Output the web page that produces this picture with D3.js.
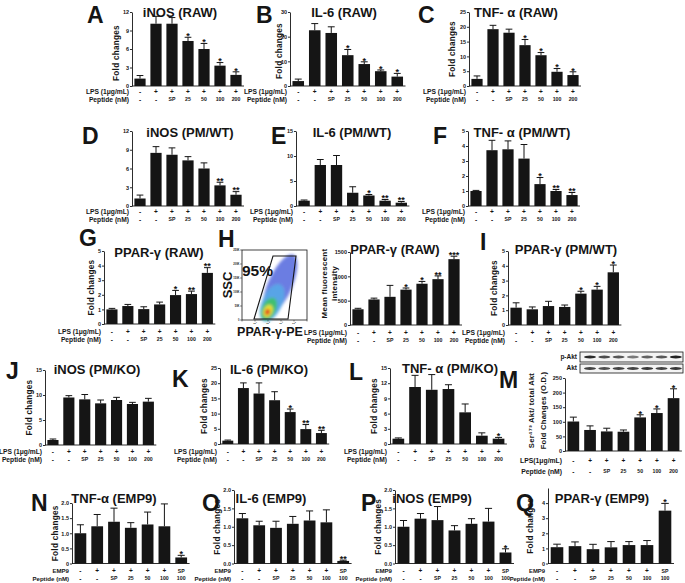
<!DOCTYPE html>
<html><head><meta charset="utf-8">
<script src="https://cdn.jsdelivr.net/npm/d3@7"></script>
<style>
body{margin:0;background:#fff}
svg{display:block;font-family:"Liberation Sans",Arial,sans-serif;font-weight:bold}
</style>
</head><body>
<svg id="c" width="685" height="583"></svg>
<script>
// ---------- data ----------
const lpsRow = ["-","+","+","+","+","+","+"];
const peptideRow = ["-","-","SP","25","50","100","200"];
const emp9Row = ["-","+","+","+","+","+","SP"];
const emp9PeptideRow = ["-","-","SP","25","50","100","100"];

const iNOS_RAW = [1.2,10.1,10.1,7.3,6.0,3.3,1.8];
const iNOS_RAW_err = [0.5,1.2,1.0,0.6,0.9,0.5,0.5];
const iNOS_RAW_sig = ["","","","*","*","*","*"];
const IL6_RAW = [2.0,22.6,21.5,12.5,8.9,6.0,3.8];
const IL6_RAW_err = [0.8,2.7,2.5,2.3,0.9,0.5,1.3];
const IL6_RAW_sig = ["","","","*","*","*","*"];
const TNF_RAW = [2.4,19.2,18.0,13.8,10.4,4.8,3.7];
const TNF_RAW_err = [1.0,1.3,1.2,1.9,0.9,1.1,1.1];
const TNF_RAW_sig = ["","","","*","*","*","*"];

const iNOS_WT = [1.2,8.5,8.2,7.3,6.0,3.3,1.8];
const iNOS_WT_err = [0.55,1.0,1.1,0.6,0.9,0.5,0.5];
const iNOS_WT_sig = ["","","","","","**","**"];
const IL6_WT = [1.06,8.2,8.2,2.65,2.1,1.06,0.66];
const IL6_WT_err = [0.14,1.1,1.9,1.2,0.2,0.24,0.24];
const IL6_WT_sig = ["","","","","*","**","**"];
const TNF_WT = [1.0,3.72,3.78,3.16,1.46,1.0,0.73];
const TNF_WT_err = [0.04,0.66,0.56,0.94,0.44,0.1,0.17];
const TNF_WT_sig = ["","","","","*","**","**"];

const PPAR_RAW = [1.0,1.23,1.02,1.34,1.98,2.05,3.5];
const PPAR_RAW_err = [0.07,0.11,0.16,0.16,0.32,0.2,0.36];
const PPAR_RAW_sig = ["","","","","*","**","**"];
const MFI_RAW = [323,525,579,727,848,942,1353];
const MFI_RAW_err = [20,27,235,33,47,67,60];
const MFI_RAW_sig = ["","","","*","*","**","***"];
const PPAR_WT = [1.17,1.06,1.28,1.22,2.12,2.39,3.56];
const PPAR_WT_err = [0.33,0.16,0.32,0.13,0.16,0.22,0.49];
const PPAR_WT_sig = ["","","","","*","*","*"];

const iNOS_KO = [1.0,9.5,9.13,8.33,9.0,8.2,8.67];
const iNOS_KO_err = [0.2,0.37,0.97,0.67,0.53,0.33,0.66];
const iNOS_KO_sig = ["","","","","","",""];
const IL6_KO = [1.1,18.4,16.6,14.4,10.5,4.9,3.6];
const IL6_KO_err = [0.2,1.7,3.5,2.8,1.0,1.5,0.9];
const IL6_KO_sig = ["","","","","*","**","**"];
const TNF_KO = [1.05,11.25,10.7,10.85,6.25,1.64,1.05];
const TNF_KO_err = [0.15,2.3,3.0,0.85,1.65,0.56,0.25];
const TNF_KO_sig = ["","","","","","","*"];
const pAkt = [101,72,67,66,115,130,181];
const pAkt_err = [15,14,11,6,9,14,32];
const pAkt_sig = ["","","","","*","*","*"];

const TNF_EMP9 = [1.0,1.23,1.38,1.18,1.29,1.23,0.2];
const TNF_EMP9_err = [0.28,0.39,0.45,0.17,0.41,0.74,0.07];
const TNF_EMP9_sig = ["","","","","","","*"];
const IL6_EMP9 = [1.23,1.04,0.97,1.08,1.17,1.12,0.07];
const IL6_EMP9_err = [0.13,0.11,0.18,0.2,0.26,0.34,0.02];
const IL6_EMP9_sig = ["","","","","","","**"];
const iNOS_EMP9 = [1.0,1.22,1.18,0.9,1.08,1.14,0.3];
const iNOS_EMP9_err = [0.17,0.14,0.37,0.13,0.14,0.36,0.1];
const iNOS_EMP9_sig = ["","","","","","","*"];
const PPAR_EMP9 = [1.08,1.15,0.95,1.07,1.22,1.22,3.5];
const PPAR_EMP9_err = [0.2,0.28,0.32,0.38,0.23,0.3,0.48];
const PPAR_EMP9_sig = ["","","","","","","*"];

// ---------- drawing ----------
const svg = d3.select("#c");
const INK = "#151515";
const f1 = d3.format(".1f");

function drawPanel(p){
  const g = svg.append("g");
  const n = p.values.length;
  const x = d3.scaleBand().domain(d3.range(n)).range([p.x0, p.x0 + n*p.step]).paddingInner(0.3).paddingOuter(0.15);
  const y = d3.scaleLinear().domain([0, p.max]).range([p.yb, p.yt]);
  const ax = g.append("g").attr("transform", `translate(${p.x0},0)`)
    .call(d3.axisLeft(y).tickValues(p.ticks).tickSize(2).tickSizeOuter(0).tickPadding(1).tickFormat(p.fmt || (d => d)));
  ax.selectAll("text").attr("font-size", 5.5).attr("font-weight", "bold").attr("fill", INK).attr("font-family", "Liberation Sans, Arial");
  ax.selectAll("path,line").attr("stroke", INK).attr("stroke-width", 0.9);
  g.append("line").attr("x1", p.x0).attr("x2", p.x0 + n*p.step).attr("y1", y(0)).attr("y2", y(0))
    .attr("stroke", INK).attr("stroke-width", 0.9);
  const bw = x.bandwidth();
  g.selectAll("rect.bar").data(p.values).join("rect").attr("class", "bar")
    .attr("x", (d,i) => x(i)).attr("y", d => y(d)).attr("width", bw).attr("height", d => y(0) - y(d)).attr("fill", INK);
  p.values.forEach((v,i) => {
    const cx = x(i) + bw/2, top = y(v + p.err[i]);
    g.append("line").attr("x1", cx).attr("x2", cx).attr("y1", y(v)).attr("y2", top).attr("stroke", INK).attr("stroke-width", 1);
    g.append("line").attr("x1", cx - bw*0.3).attr("x2", cx + bw*0.3).attr("y1", top).attr("y2", top).attr("stroke", INK).attr("stroke-width", 1);
    if (p.sig[i]) g.append("text").attr("x", cx).attr("y", top + 1.8).attr("text-anchor", "middle")
      .attr("font-size", 9).attr("fill", INK).text(p.sig[i]);
  });
  p.rows.forEach((r, k) => {
    const yy = p.rowY[k];
    g.append("text").attr("x", p.x0 - 3).attr("y", yy).attr("text-anchor", "end")
      .attr("font-size", p.labFs || 6.7).attr("fill", INK).attr("dominant-baseline", "middle").text(r.label);
    r.vals.forEach((s, i) => {
      g.append("text").attr("x", x(i) + bw/2).attr("y", yy).attr("text-anchor", "middle")
        .attr("font-size", (s === "+" || s === "-") ? 6.5 : 5.2).attr("fill", INK).attr("dominant-baseline", "middle").text(s);
    });
  });
  if (p.title) g.append("text").attr("x", p.tx).attr("y", p.ty).attr("text-anchor", "middle").attr("font-size", 13).attr("fill", INK).text(p.title);
  g.append("text").attr("x", p.lx).attr("y", p.ly).attr("font-size", 23).attr("fill", INK).text(p.letter);
  (p.ylab || []).forEach((t, k) => {
    g.append("text").attr("transform", `translate(${p.ylabX[k]},${(p.yt + p.yb)/2 + (p.ylabDy || 0)}) rotate(-90)`)
      .attr("text-anchor", "middle").attr("font-size", p.ylabFs || 8.2).attr("letter-spacing", 0.25).attr("fill", INK).text(t);
  });
  return {x, y, bw};
}

const stdRows = [{label:"LPS (1μg/mL)", vals: lpsRow}, {label:"Peptide (nM)", vals: peptideRow}];
const empRows = [{label:"EMP9", vals: emp9Row}, {label:"Peptide (nM)", vals: emp9PeptideRow}];
const FC = ["Fold changes"];

// Row 1
drawPanel({letter:"A", lx:87, ly:23, title:"iNOS (RAW)", tx:180, ty:17, x0:132, step:16, yt:12, yb:86, max:12, ticks:[0,3,6,9,12],
  values:iNOS_RAW, err:iNOS_RAW_err, sig:iNOS_RAW_sig, rows:stdRows, rowY:[92,100], ylab:FC, ylabX:[119], ylabDy:4});
drawPanel({letter:"B", lx:256, ly:23, title:"IL-6 (RAW)", tx:344, ty:17, x0:290, step:16.5, yt:12, yb:86, max:30, ticks:[0,10,20,30],
  values:IL6_RAW, err:IL6_RAW_err, sig:IL6_RAW_sig, rows:stdRows, rowY:[92,100], ylab:FC, ylabX:[282], ylabDy:2});
drawPanel({letter:"C", lx:418, ly:23, title:"TNF- α (RAW)", tx:516, ty:17, x0:469, step:16, yt:12, yb:86, max:25, ticks:[0,5,10,15,20,25],
  values:TNF_RAW, err:TNF_RAW_err, sig:TNF_RAW_sig, rows:stdRows, rowY:[92,100], ylab:FC, ylabX:[455], ylabDy:0});
// Row 2
drawPanel({letter:"D", lx:82, ly:144, title:"iNOS (PM/WT)", tx:190, ty:137, x0:132, step:16, yt:131, yb:206, max:12, ticks:[0,3,6,9,12],
  values:iNOS_WT, err:iNOS_WT_err, sig:iNOS_WT_sig, rows:stdRows, rowY:[212,220]});
drawPanel({letter:"E", lx:271, ly:144, title:"IL-6 (PM/WT)", tx:352, ty:137, x0:296, step:16.2, yt:131, yb:206, max:15, ticks:[0,5,10,15],
  values:IL6_WT, err:IL6_WT_err, sig:IL6_WT_sig, rows:stdRows, rowY:[212,220]});
drawPanel({letter:"F", lx:433, ly:144, title:"TNF- α (PM/WT)", tx:522, ty:137, x0:468, step:16, yt:131, yb:206, max:5, ticks:[0,1,2,3,4,5],
  values:TNF_WT, err:TNF_WT_err, sig:TNF_WT_sig, rows:stdRows, rowY:[212,220]});
// Row 3
drawPanel({letter:"G", lx:79, ly:246, title:"PPAR-γ (RAW)", tx:159, ty:257, x0:104, step:15.9, yt:251, yb:324, max:5, ticks:[0,1,2,3,4,5],
  values:PPAR_RAW, err:PPAR_RAW_err, sig:PPAR_RAW_sig, rows:stdRows, rowY:[332,340], ylab:FC, ylabX:[94]});
drawPanel({letter:"H", lx:218, ly:247, title:"PPAR-γ (RAW)", tx:395, ty:254, x0:350, step:16, yt:252, yb:325, max:1500, ticks:[0,500,1000,1500],
  values:MFI_RAW, err:MFI_RAW_err, sig:MFI_RAW_sig, rows:stdRows, rowY:[333,341], ylab:["Mean fluorescent","intensity"], ylabX:[327,337], ylabDy:-5, ylabFs:8});
drawPanel({letter:"I", lx:480, ly:250, title:"PPAR-γ (PM/WT)", tx:566, ty:254, x0:508, step:16.2, yt:251, yb:325, max:5, ticks:[0,1,2,3,4,5],
  values:PPAR_WT, err:PPAR_WT_err, sig:PPAR_WT_sig, rows:stdRows, rowY:[333,341], ylab:FC, ylabX:[497]});
// Row 4
drawPanel({letter:"J", lx:6, ly:379, title:"iNOS (PM/KO)", tx:97, ty:374, x0:45, step:15.9, yt:370, yb:445, max:15, ticks:[0,5,10,15],
  values:iNOS_KO, err:iNOS_KO_err, sig:iNOS_KO_sig, rows:stdRows, rowY:[452,460], ylab:FC, ylabX:[32]});
drawPanel({letter:"K", lx:172, ly:387, title:"IL-6 (PM/KO)", tx:269, ty:374, x0:220, step:15.6, yt:368, yb:444, max:25, ticks:[0,5,10,15,20,25],
  values:IL6_KO, err:IL6_KO_err, sig:IL6_KO_sig, rows:stdRows, rowY:[452,460], ylab:FC, ylabX:[207]});
drawPanel({letter:"L", lx:349, ly:380, title:"TNF- α (PM/KO)", tx:450, ty:373, x0:390, step:16.7, yt:368, yb:444, max:15, ticks:[0,3,6,9,12,15],
  values:TNF_KO, err:TNF_KO_err, sig:TNF_KO_sig, rows:stdRows, rowY:[452,460], ylab:FC, ylabX:[377]});
drawPanel({letter:"M", lx:499, ly:388, title:"", x0:565, step:16.7, yt:378, yb:451, max:250, ticks:[0,50,100,150,200,250],
  values:pAkt, err:pAkt_err, sig:pAkt_sig, rows:[{label:"LPS(1μg/mL)", vals:lpsRow},{label:"Peptide (nM)", vals:peptideRow}], rowY:[461,472], labFs:6.8,
  ylab:["Ser\u2074\u2077\u00b3 Akt/ total Akt","Fold Changes (O.D.)"], ylabX:[534,546], ylabDy:-4, ylabFs:7.6});
// Row 5
const f0 = d => d === 0 ? "0" : f1(d);
drawPanel({letter:"N", lx:31, ly:511, title:"TNF-α (EMP9)", tx:114, ty:503, x0:72, step:16.8, yt:503, yb:563.5, max:2.0, ticks:[0,0.5,1,1.5,2], fmt:f0,
  values:TNF_EMP9, err:TNF_EMP9_err, sig:TNF_EMP9_sig, rows:empRows, rowY:[571.5,579], labFs:6.1, ylab:FC, ylabX:[58]});
drawPanel({letter:"O", lx:202, ly:511, title:"IL-6 (EMP9)", tx:271, ty:503, x0:234, step:16.8, yt:490, yb:563.5, max:2.0, ticks:[0,0.5,1,1.5,2], fmt:f1,
  values:IL6_EMP9, err:IL6_EMP9_err, sig:IL6_EMP9_sig, rows:empRows, rowY:[571.5,579], labFs:6.1, ylab:FC, ylabX:[220]});
drawPanel({letter:"P", lx:361, ly:511, title:"iNOS (EMP9)", tx:432, ty:503, x0:395, step:17, yt:490, yb:563.5, max:2.0, ticks:[0,0.5,1,1.5,2], fmt:f1,
  values:iNOS_EMP9, err:iNOS_EMP9_err, sig:iNOS_EMP9_sig, rows:empRows, rowY:[571.5,579], labFs:6.1, ylab:FC, ylabX:[381]});
drawPanel({letter:"Q", lx:516, ly:511, title:"PPAR-γ (EMP9)", tx:602, ty:503, x0:548, step:18, yt:488, yb:563.5, max:5, ticks:[0,1,2,3,4],
  values:PPAR_EMP9, err:PPAR_EMP9_err, sig:PPAR_EMP9_sig, rows:empRows, rowY:[571.5,579], labFs:5.9, ylab:FC, ylabX:[533]});

// ---------- H: flow cytometry plot ----------
const fg = svg.append("g");
const defs = svg.append("defs");
defs.append("filter").attr("id","blur").append("feGaussianBlur").attr("stdDeviation",1.4);
const fx = d3.scaleLinear().domain([0,5]).range([242,307]);
const fy = d3.scaleLinear().domain([0,250]).range([320,250]);
fg.append("rect").attr("x",242).attr("y",250).attr("width",65).attr("height",70).attr("fill","#fff").attr("stroke",INK).attr("stroke-width",0.8);
const blobs = [
  {cx:280, cy:285, rx:33, ry:12, c:"#3a52d8", o:0.75},
  {cx:272, cy:303, rx:20, ry:10, c:"#57a8e8", o:0.9},
  {cx:269, cy:309, rx:12, ry:7, c:"#40c070", o:1},
  {cx:268, cy:311, rx:6.5, ry:4.5, c:"#e8e030", o:1},
  {cx:267.5, cy:312, rx:3, ry:2.3, c:"#e03020", o:1}
];
const blobG = fg.append("g").attr("filter","url(#blur)");
blobs.forEach(b => blobG.append("ellipse").attr("cx",b.cx).attr("cy",b.cy).attr("rx",b.rx).attr("ry",b.ry)
  .attr("fill",b.c).attr("opacity",b.o).attr("transform",`rotate(-66,${b.cx},${b.cy})`));
fg.append("polygon").attr("points","254,319 273,256 296,256 288,319").attr("fill","none").attr("stroke",INK).attr("stroke-width",1.1);
[0,50,100,150,200,250].forEach(v => {
  fg.append("line").attr("x1",240).attr("x2",242).attr("y1",fy(v)).attr("y2",fy(v)).attr("stroke",INK).attr("stroke-width",0.5);
  fg.append("text").attr("x",239.5).attr("y",fy(v)+1).attr("text-anchor","end").attr("font-size",2.6).attr("fill",INK).text(v===0?"0":v+"K");
});
[0,1,2,3,4,5].forEach(v => {
  fg.append("line").attr("x1",fx(v)).attr("x2",fx(v)).attr("y1",320).attr("y2",321.5).attr("stroke",INK).attr("stroke-width",0.5);
  if (v>0 && v<5) fg.append("text").attr("x",fx(v)).attr("y",323.6).attr("text-anchor","middle").attr("font-size",2.4).attr("fill",INK).text("10"+"\u2070\u00b9\u00b2\u00b3\u2074"[v]);
});
fg.append("text").attr("x",242).attr("y",276).attr("font-size",15.5).attr("fill",INK).text("95%");
fg.append("text").attr("transform","translate(232,285) rotate(-90)").attr("text-anchor","middle").attr("font-size",13).attr("fill",INK).text("SSC");
fg.append("text").attr("x",270).attr("y",336).attr("text-anchor","middle").attr("font-size",12.5).attr("fill",INK).text("PPAR-γ-PE");

// ---------- M: western blot ----------
const wb = svg.append("g");
const bandP = [0.9,0.75,0.7,0.55,0.65,0.7,0.95];
const bandT = [0.8,0.75,0.8,0.8,0.85,0.8,0.85];
[[352,362,"p-Akt",bandP],[364,373,"Akt",bandT]].forEach(([y1,y2,lab,ints]) => {
  wb.append("rect").attr("x",580).attr("y",y1).attr("width",103).attr("height",y2-y1).attr("fill","#f4f4f4").attr("stroke",INK).attr("stroke-width",0.8);
  wb.append("text").attr("x",577).attr("y",(y1+y2)/2).attr("dominant-baseline","middle").attr("text-anchor","end").attr("font-size",6.5).attr("fill",INK).text(lab);
  ints.forEach((a,i) => {
    const cx = 584 + i*14.3 + 6;
    wb.append("ellipse").attr("cx",cx).attr("cy",(y1+y2)/2).attr("rx",6).attr("ry",1.4).attr("fill",INK).attr("opacity",a);
  });
});
</script>
</body></html>
